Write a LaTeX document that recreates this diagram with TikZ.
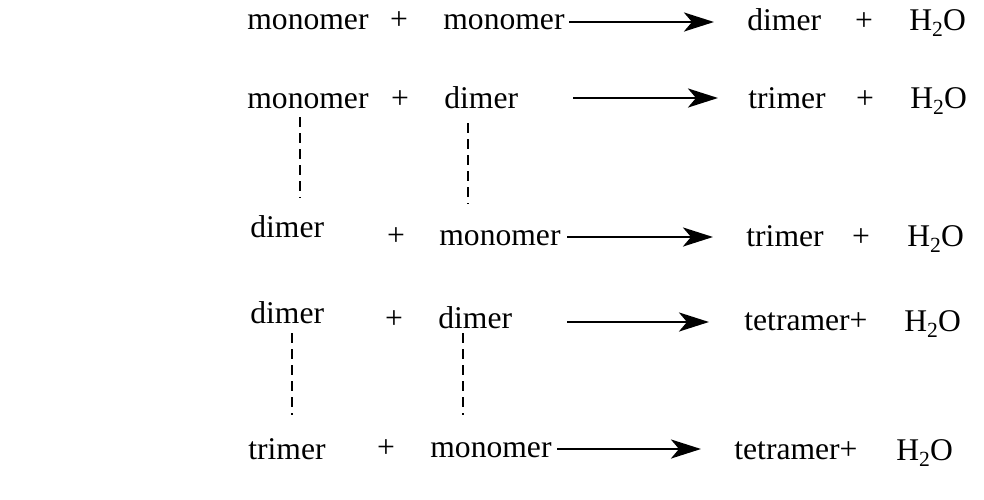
\documentclass[tikz,border=0pt]{standalone}
\usepackage{fontspec}
\setmainfont{Liberation Serif}
\usetikzlibrary{arrows.meta}
\newcommand{\water}{H\raisebox{-0.2em}{\fontsize{10.8}{10.8}\selectfont 2}O}
\begin{document}
\begin{tikzpicture}[x=0.5pt,y=-0.5pt,
  lbl/.style={anchor=base west,inner sep=0pt,font=\fontsize{15.8}{19}\selectfont},
  pls/.style={anchor=base,inner sep=0pt,font=\fontsize{15.8}{19}\selectfont},
  rxn/.style={line width=1.45pt,-{Stealth[length=15pt,width=9.5pt,inset=4pt]}},
  link/.style={line width=0.9pt,dash pattern=on 5pt off 3pt}]
\useasboundingbox (0,0) rectangle (984,499);
% row 1
\node[lbl] (r1a) at (247,29) {monomer};
\node[pls] (r1p) at (399,29) {+};
\node[lbl] (r1b) at (443,29) {monomer};
\node[lbl] (r1c) at (747,30) {dimer};
\node[pls] (r1q) at (864,30) {+};
\node[lbl] (r1w) at (909,30) {\water};
\coordinate (a1s) at (569,22); \coordinate (a1e) at (714,22);
\draw[rxn] (a1s) -- (a1e);
% row 2
\node[lbl] (r2a) at (247,108) {monomer};
\node[pls] (r2p) at (400,108) {+};
\node[lbl] (r2b) at (444,108) {dimer};
\node[lbl] (r2c) at (748,108) {trimer};
\node[pls] (r2q) at (865,108) {+};
\node[lbl] (r2w) at (910,108) {\water};
\coordinate (a2s) at (573,98); \coordinate (a2e) at (718,98);
\draw[rxn] (a2s) -- (a2e);
% links 2-3
\coordinate (d1t) at (300,117); \coordinate (d1b) at (300,198);
\coordinate (d2t) at (468,123); \coordinate (d2b) at (468,204);
\draw[link] (d1t) -- (d1b);
\draw[link] (d2t) -- (d2b);
% row 3
\node[lbl] (r3a) at (250,237) {dimer};
\node[pls] (r3p) at (396,245) {+};
\node[lbl] (r3b) at (439,245) {monomer};
\node[lbl] (r3c) at (746,246) {trimer};
\node[pls] (r3q) at (861,246) {+};
\node[lbl] (r3w) at (907,246) {\water};
\coordinate (a3s) at (567,237); \coordinate (a3e) at (713,237);
\draw[rxn] (a3s) -- (a3e);
% row 4
\node[lbl] (r4a) at (250,323) {dimer};
\node[pls] (r4p) at (394,328) {+};
\node[lbl] (r4b) at (438,328) {dimer};
\node[lbl] (r4c) at (744,330) {tetramer+};
\node[lbl] (r4w) at (904,331) {\water};
\coordinate (a4s) at (567,322); \coordinate (a4e) at (709,322);
\draw[rxn] (a4s) -- (a4e);
% links 4-5
\coordinate (d3t) at (292,333); \coordinate (d3b) at (292,415);
\coordinate (d4t) at (463,333); \coordinate (d4b) at (463,415);
\draw[link] (d3t) -- (d3b);
\draw[link] (d4t) -- (d4b);
% row 5
\node[lbl] (r5a) at (248,459) {trimer};
\node[pls] (r5p) at (386,457) {+};
\node[lbl] (r5b) at (430,457) {monomer};
\node[lbl] (r5c) at (734,459) {tetramer+};
\node[lbl] (r5w) at (896,460) {\water};
\coordinate (a5s) at (557,449); \coordinate (a5e) at (701,449);
\draw[rxn] (a5s) -- (a5e);
\end{tikzpicture}
\end{document}
